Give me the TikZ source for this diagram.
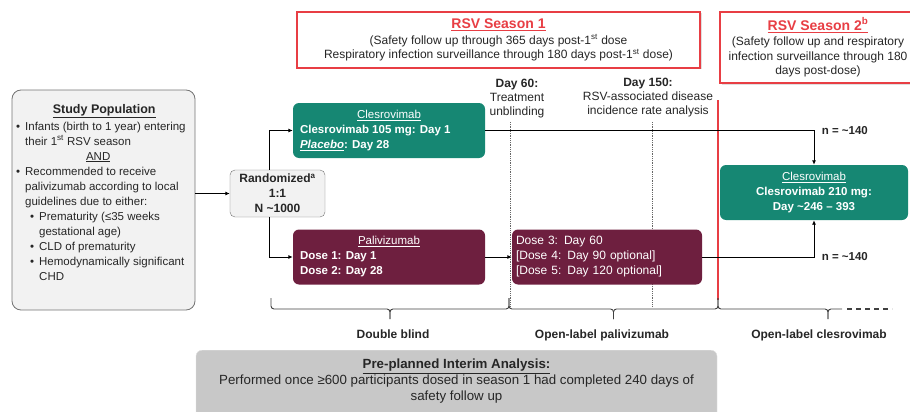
\documentclass[tikz,border=0pt]{standalone}
\usepackage{fontspec}
\setmainfont{Liberation Sans}
\usetikzlibrary{arrows.meta,shadows}

\definecolor{cteal}{RGB}{22,135,115}
\definecolor{cmaroon}{RGB}{110,31,63}
\definecolor{cred}{RGB}{232,62,68}
\definecolor{cgreybox}{RGB}{200,200,200}
\definecolor{cpop}{RGB}{242,242,242}

\newcommand{\bul}{\makebox[9pt][l]{\textbullet}}
\newcommand{\subbul}{\hspace*{14pt}\makebox[9pt][l]{\textbullet}}

\tikzset{
  popbox/.style={draw=black!55, fill=cpop, rounded corners=9pt, line width=0.8pt},
  armbox/.style={rounded corners=6pt, text=white, minimum width=192pt, minimum height=55pt, inner sep=0pt,
    font=\fontsize{11.5}{15}\selectfont},
  seasonbox/.style={draw=cred, line width=1.5pt, fill=white, inner sep=0pt,
    drop shadow={shadow xshift=1.5pt, shadow yshift=-1.5pt, opacity=0.25}},
  arr/.style={-{Latex[length=4.5pt,width=4pt]}, line width=1pt},
  dayline/.style={densely dotted, line width=0.8pt, black!60},
  brc/.style={line width=0.9pt, black!75, rounded corners=3pt},
  lbl/.style={font=\fontsize{12}{14}\selectfont\bfseries},
}

\begin{document}
\begin{tikzpicture}[x=1pt, y=-1pt, font=\fontsize{12}{14.5}\selectfont, text=black!85]
\clip (0,0) rectangle (910,412);

% day markers
\draw[dayline] (510,122) -- (510,306);
\draw[dayline] (652,122) -- (652,306);
\draw[cred, line width=1.3pt] (718,100) -- (718,300);

% season headers
\node[seasonbox, minimum width=403pt, minimum height=56pt, align=center] (season1) at (498.5,40)
  {{\fontsize{14}{15}\selectfont\bfseries\color{cred}\underline{RSV Season 1}}\\[1pt]
   (Safety follow up through 365 days post-1\textsuperscript{st} dose\\
   Respiratory infection surveillance through 180 days post-1\textsuperscript{st} dose)};
\node[seasonbox, minimum width=196pt, minimum height=71pt, align=center] (season2) at (818,47.5)
  {{\fontsize{14}{15}\selectfont\bfseries\color{cred}\underline{RSV Season 2\textsuperscript{b}}}\\[1pt]
   (Safety follow up and respiratory\\
   infection surveillance through 180\\
   days post-dose)};

\node[align=center, font=\fontsize{12}{14}\selectfont] (day60) at (517,99) {\textbf{Day 60:}\\Treatment\\unblinding};
\node[align=center, font=\fontsize{12}{14}\selectfont] (day150) at (648,98) {\textbf{Day 150:}\\RSV-associated disease\\incidence rate analysis};

% study population
\node[popbox, minimum width=183pt, minimum height=220pt] (studypop) at (103.5,200) {};
\node[anchor=north west, align=left, inner sep=0pt, font=\fontsize{11.5}{15}\selectfont] (poptext) at (16,104)
  {\makebox[176pt]{\fontsize{12.5}{14}\selectfont\bfseries\underline{Study Population}}\\[2pt]
   \bul Infants (birth to 1 year) entering\\
   \hspace*{9pt}their 1\textsuperscript{st} RSV season\\
   \makebox[164pt]{\underline{AND}}\\
   \bul Recommended to receive\\
   \hspace*{9pt}palivizumab according to local\\
   \hspace*{9pt}guidelines due to either:\\
   \subbul Prematurity (≤35 weeks\\
   \hspace*{23pt}gestational age)\\
   \subbul CLD of prematurity\\
   \subbul Hemodynamically significant\\
   \hspace*{23pt}CHD};

\node[draw=black!55, fill=cpop, rounded corners=5pt, minimum width=95pt, minimum height=47pt,
  align=center, font=\fontsize{12}{15}\selectfont\bfseries] (rand) at (277.5,193.5)
  {Randomized\textsuperscript{a}\\1:1\\N \textasciitilde1000};

% treatment arms
\node[armbox, fill=cteal, align=left] (clesA) at (389,130.5)
  {\makebox[178pt]{\underline{Clesrovimab}}\\
   \textbf{Clesrovimab 105 mg: Day 1}\\
   \textbf{\textit{\underline{Placebo}}: Day 28}};
\node[armbox, fill=cmaroon, align=left] (palA) at (389,257)
  {\makebox[178pt]{\underline{Palivizumab}}\\
   \textbf{Dose 1: Day 1}\\
   \textbf{Dose 2: Day 28}};
\node[armbox, fill=cmaroon, minimum width=190pt, text width=182pt, align=left,
  font=\fontsize{12}{15}\selectfont] (palB) at (607,257)
  {Dose 3: Day 60\\
   {[}Dose 4: Day 90 optional]\\
   {[}Dose 5: Day 120 optional]};
\node[armbox, fill=cteal, minimum width=188pt, align=center] (clesB) at (814,192.5)
  {\underline{Clesrovimab}\\
   \textbf{Clesrovimab 210 mg:}\\
   \textbf{Day \textasciitilde246 – 393}};

% connectors
\draw[arr] (studypop.east |- rand.west) -- (rand.west);
\draw[arr] ([xshift=-8.5pt]rand.north) |- (clesA.west);
\draw[arr] ([xshift=-8.5pt]rand.south) |- (palA.west);
\draw[arr] (palA.east) -- (palB.west);
\draw[arr] (clesA.east) -| (clesB.north)
  node[pos=0.5, anchor=west, xshift=4pt, font=\fontsize{11.5}{13}\selectfont\bfseries] {n = \textasciitilde140};
\draw[arr] (palB.east) -| (clesB.south)
  node[pos=0.5, anchor=west, xshift=4pt, font=\fontsize{11.5}{13}\selectfont\bfseries] {n = \textasciitilde140};

% study phases
\foreach \xa/\xb in {271/509, 509/718}{
  \draw[brc] (\xa,298) -- (\xa,309) -- ({(\xa+\xb)/2},309) -- ({(\xa+\xb)/2},319);
  \draw[brc] ({(\xa+\xb)/2},319) -- ({(\xa+\xb)/2},309) -- (\xb,309) -- (\xb,298);
}
\draw[brc] (718,298) -- (718,309) -- (828,309) -- (828,319);
\draw[brc] (828,319) -- (828,309) -- (842,309);
\draw[black!75, line width=1.2pt, dash pattern=on 5pt off 4pt] (847,309) -- (892,309);

\node[lbl] (dblind) at (393,334) {Double blind};
\node[lbl] (olpal) at (602,335) {Open-label palivizumab};
\node[lbl] (olcles) at (819,335) {Open-label clesrovimab};

% interim analysis
\node[fill=cgreybox, draw=black!12, rounded corners=6pt, minimum width=521pt, minimum height=80pt,
  anchor=north] (interim) at (456.5,350) {};
\node[align=center, anchor=north, inner sep=0pt, font=\fontsize{13.3}{16}\selectfont] (interimtext) at (456.5,359)
  {\textbf{\underline{Pre-planned Interim Analysis:}}\\
   Performed once ≥600 participants dosed in season 1 had completed 240 days of\\
   safety follow up};
\end{tikzpicture}
\end{document}
